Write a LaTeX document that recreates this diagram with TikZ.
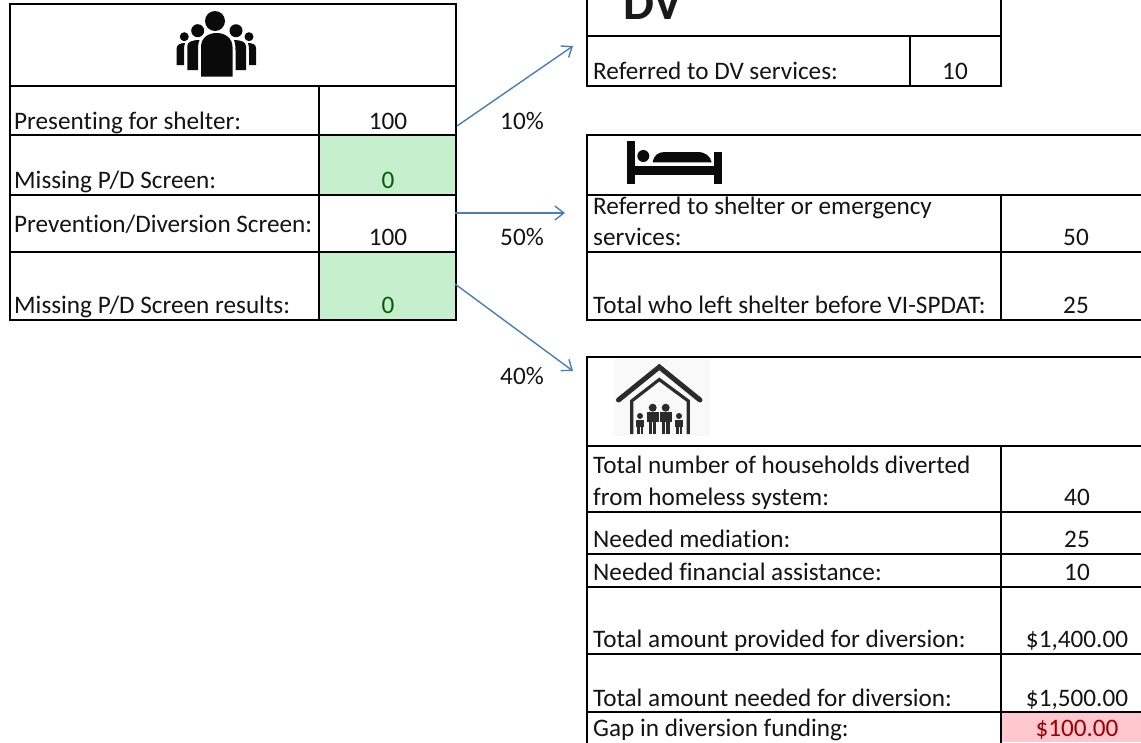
\documentclass[tikz,border=0pt]{standalone}
\usepackage{fontspec}
\setmainfont[Ligatures=NoCommon]{Carlito}
\usetikzlibrary{arrows.meta}
\definecolor{flowblue}{HTML}{4A7EBB}
\definecolor{okfill}{HTML}{C6EFCE}
\definecolor{oktext}{HTML}{006100}
\definecolor{badfill}{HTML}{FFC7CE}
\definecolor{badtext}{HTML}{9C0006}
\definecolor{icon}{HTML}{0A0A0A}
\definecolor{houseicon}{HTML}{2B2B2B}
\tikzset{
  x=1pt,y=-1pt,
  grid/.style={draw=black,line width=1.8pt,line cap=rect},
  lbl/.style={inner sep=0pt,anchor=base west,yshift=-1pt,font=\fontsize{25.2}{27}\selectfont,text=black!92},
  val/.style={inner sep=0pt,anchor=base,yshift=-1pt,font=\fontsize{25.2}{27}\selectfont,text=black!92},
  okval/.style={val,text=oktext},
  badval/.style={val,text=badtext},
  flow/.style={draw=flowblue,line width=1.4pt,-{Straight Barb[length=9pt,width=14pt,line width=1.4pt]}},
  iconfill/.style={fill=icon,draw=none},
  housefill/.style={fill=houseicon,draw=none}
}
\begin{document}
\begin{tikzpicture}
\useasboundingbox (0,0) rectangle (1141,742);
\clip (0,0) rectangle (1141,742);
\fill[white] (0,0) rectangle (1141,742);
% fills
\fill[okfill] (319,135) rectangle (456,195);
\fill[okfill] (319,252) rectangle (456,320);
\fill[badfill] (1001,712) rectangle (1141,742);
\fill[gray!5] (614,359) rectangle (710,436);
% left table
\draw[grid] (10,4) rectangle (456,320);
\draw[grid] (10,86) -- (456,86) (10,135) -- (456,135) (10,195) -- (456,195) (10,252) -- (456,252);
\draw[grid] (319,86) -- (319,320);
% DV table
\draw[grid] (587,-5) -- (587,86) -- (1001,86) -- (1001,-5);
\draw[grid] (587,36) -- (1001,36) (910,36) -- (910,86);
% shelter table
\draw[grid] (1150,135) -- (587,135) -- (587,320) -- (1150,320);
\draw[grid] (587,195) -- (1150,195) (587,252) -- (1150,252) (1001,195) -- (1001,320);
% home table
\draw[grid] (1150,357) -- (587,357) -- (587,750);
\draw[grid] (587,446) -- (1150,446) (587,512) -- (1150,512) (587,554) -- (1150,554) (587,587) -- (1150,587) (587,654) -- (1150,654) (587,712) -- (1150,712) (1001,446) -- (1001,750);
% left text
\node[lbl] (a1) at (14,128) {Presenting for shelter:};
\node[val] (a1v) at (388,128) {100};
\node[lbl] (a2) at (14,187) {Missing P/D Screen:};
\node[okval] (a2v) at (388,187) {0};
\node[lbl] (a3) at (14,231) {Prevention/Diversion Screen:};
\node[val] (a3v) at (388,244) {100};
\node[lbl] (a4) at (14,312) {Missing P/D Screen results:};
\node[okval] (a4v) at (388,312) {0};
% percentages
\node[val] (p1) at (522,128) {10\%};
\node[val] (p2) at (522,244) {50\%};
\node[val] (p3) at (522,383) {40\%};
% DV
\node[inner sep=0pt,anchor=base west,font=\fontsize{49}{51}\selectfont\bfseries,text=black!90] (dv) at (623,19) {DV};
\node[lbl] (b1) at (593,78) {Referred to DV services:};
\node[val] (b1v) at (955,78) {10};
% shelter
\node[lbl] (c1) at (593,213) {Referred to shelter or emergency};
\node[lbl] (c1b) at (593,244) {services:};
\node[val] (c1v) at (1076,244) {50};
\node[lbl] (c2) at (593,312) {Total who left shelter before VI-SPDAT:};
\node[val] (c2v) at (1076,312) {25};
% home
\node[lbl] (d1) at (593,472) {Total number of households diverted};
\node[lbl] (d1b) at (593,504) {from homeless system:};
\node[val] (d1v) at (1077,504) {40};
\node[lbl] (d2) at (593,546) {Needed mediation:};
\node[val] (d2v) at (1077,546) {25};
\node[lbl] (d3) at (593,579) {Needed financial assistance:};
\node[val] (d3v) at (1077,579) {10};
\node[lbl] (d4) at (593,646) {Total amount provided for diversion:};
\node[val] (d4v) at (1077,646) {\$1,400.00};
\node[lbl] (d5) at (593,705) {Total amount needed for diversion:};
\node[val] (d5v) at (1077,705) {\$1,500.00};
\node[lbl] (d6) at (593,735) {Gap in diversion funding:};
\node[badval] (d6v) at (1077,735) {\$100.00};
% connectors
\coordinate (s1) at (457,126);
\coordinate (e1) at (573,46);
\coordinate (s2) at (455,213);
\coordinate (e2) at (565,213);
\coordinate (s3) at (455,284);
\coordinate (e3) at (573,371);
\draw[flow] (s1) -- (e1);
\draw[flow] (s2) -- (e2);
\draw[flow] (s3) -- (e3);
% people icon
\fill[iconfill] (215,21) circle (10);
\fill[iconfill] (197.7,30.7) circle (6.5);
\fill[iconfill] (236,30.7) circle (6.5);
\fill[iconfill] (184.3,36.7) circle (4.5);
\fill[iconfill] (249,36.7) circle (4.5);
\fill[iconfill] (201,76.7) -- (201,47) .. controls (201,38) and (208,33) .. (216.5,33) .. controls (225,33) and (232.5,38) .. (232.5,47) -- (232.5,76.7) -- cycle;
\fill[iconfill] (187.3,70) -- (187.3,46) .. controls (187.3,42) and (192,40) .. (199.5,40) .. controls (198,44) and (198,47) .. (198,50) -- (198,70) -- cycle;
\fill[iconfill] (246,70) -- (246,46) .. controls (246,42) and (241,40) .. (234,40) .. controls (235.5,44) and (235.5,47) .. (235.5,50) -- (235.5,70) -- cycle;
\fill[iconfill] (176.7,65) -- (176.7,48) .. controls (176.7,45) and (180,43) .. (185,43) .. controls (184,46) and (184,48) .. (184,50) -- (184,65) -- cycle;
\fill[iconfill] (256,65) -- (256,48) .. controls (256,45) and (253,43) .. (248,43) .. controls (249,46) and (249,48) .. (249,50) -- (249,65) -- cycle;
% bed icon
\fill[iconfill] (626.7,141) rectangle (635,184.3);
\fill[iconfill] (714,151.7) rectangle (722,184.3);
\fill[iconfill] (635,165.7) rectangle (714,175);
\fill[iconfill] (643.3,156) circle (6);
\fill[iconfill] (652.7,162.3) .. controls (654,155) and (658,152) .. (665,152) -- (697,152) .. controls (706,152) and (710,156) .. (711.7,162.3) -- cycle;
% house icon
\draw[draw=houseicon,line width=5pt,line cap=round,line join=miter] (618.5,400) -- (659.3,367) -- (700,400);
\draw[draw=houseicon,line width=3.2pt,line join=miter] (631.7,434) -- (631.7,401) -- (659.3,379.5) -- (688.3,401) -- (688.3,434);
\fill[housefill] (652.7,407.7) circle (4);
\fill[housefill] (665.7,407.7) circle (4);
\fill[housefill] (646.7,412) rectangle (658.6,422);
\fill[housefill] (660,412) rectangle (671.7,422);
\fill[housefill] (649,422) rectangle (652.2,434);
\fill[housefill] (653.2,422) rectangle (656.4,434);
\fill[housefill] (662,422) rectangle (665.2,434);
\fill[housefill] (666.4,422) rectangle (669.6,434);
\fill[housefill] (640,416) circle (3);
\fill[housefill] (679,416) circle (3);
\fill[housefill] (635.7,419.5) rectangle (644.3,427);
\fill[housefill] (674.5,419.5) rectangle (683.3,427);
\fill[housefill] (637,427) rectangle (639.6,434);
\fill[housefill] (640.6,427) rectangle (643.2,434);
\fill[housefill] (676,427) rectangle (678.6,434);
\fill[housefill] (679.6,427) rectangle (682.2,434);
\end{tikzpicture}
\end{document}
